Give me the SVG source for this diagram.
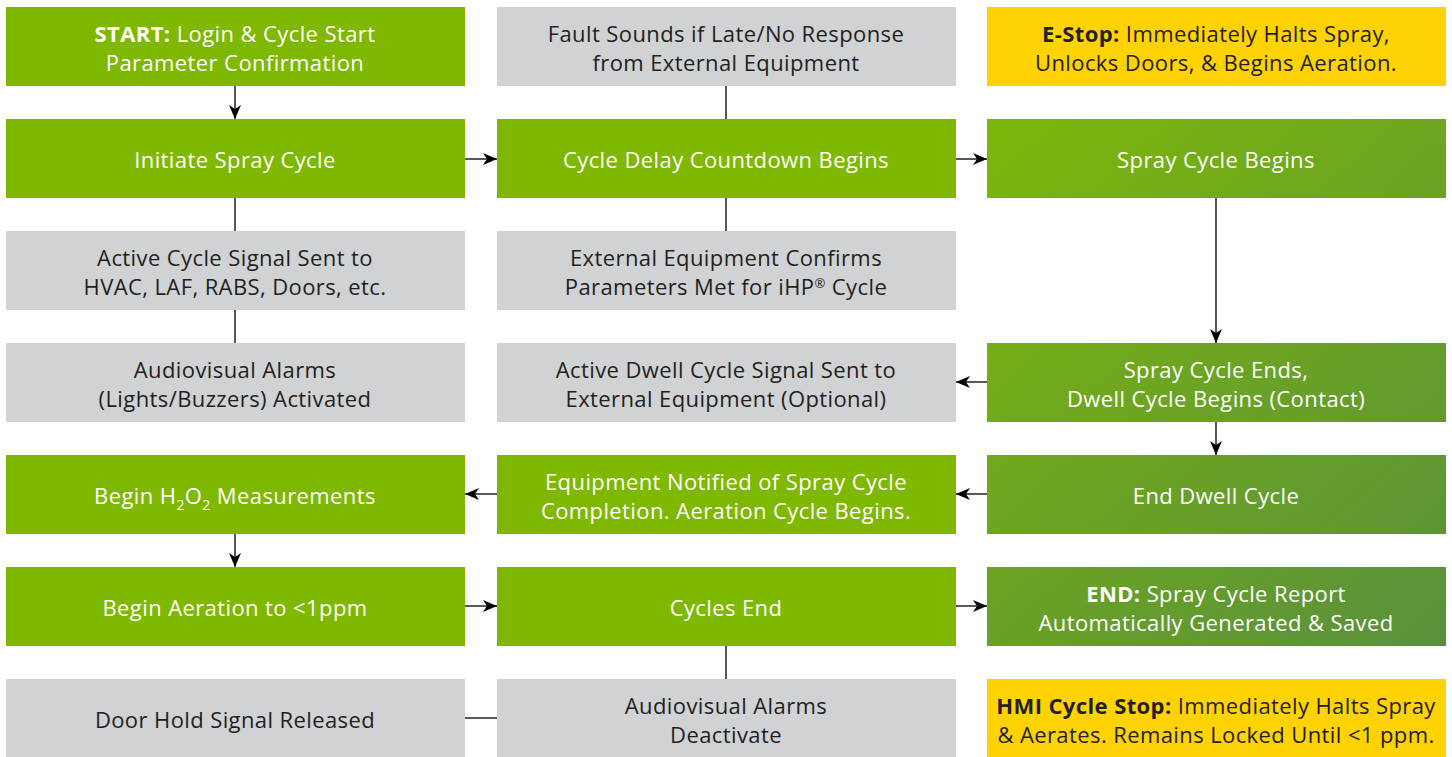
<svg xmlns="http://www.w3.org/2000/svg" width="1452" height="757" viewBox="0 0 1452 757">
<defs>
<linearGradient id="g3" gradientUnits="userSpaceOnUse" x1="987" y1="119" x2="1446" y2="646">
<stop offset="0" stop-color="#7cb70a"/>
<stop offset="1" stop-color="#5a903c"/>
</linearGradient>
<marker id="ah" viewBox="0 0 14 12" refX="14" refY="6" markerWidth="14" markerHeight="12" markerUnits="userSpaceOnUse" orient="auto">
<path d="M0,0 L14,6 L0,12 L4,6 Z" fill="#000"/>
</marker>
<style>
.g{fill:#7fb800}
.gg{fill:url(#g3)}
.s{fill:#d1d2d4}
.y{fill:#ffd200}
text{font-family:"Open Sans","Liberation Sans",sans-serif;font-size:22px;letter-spacing:0.4px;text-anchor:middle}
.w{fill:#ffffff}
.d{fill:#231f20}
.b{font-weight:bold}
.c{stroke:#3a3a3a;stroke-width:1.7;fill:none}
.a{marker-end:url(#ah)}
</style>
</defs>
<rect width="1452" height="757" fill="#fff"/>
<g id="connectors">
<line class="c a" x1="235" y1="86" x2="235" y2="119"/>
<line class="c a" x1="465" y1="159" x2="497" y2="159"/>
<line class="c a" x1="956" y1="159" x2="987" y2="159"/>
<line class="c" x1="726" y1="86" x2="726" y2="119"/>
<line class="c" x1="235" y1="198" x2="235" y2="231"/>
<line class="c" x1="235" y1="310" x2="235" y2="343"/>
<line class="c" x1="726" y1="198" x2="726" y2="231"/>
<line class="c a" x1="1216" y1="198" x2="1216" y2="343"/>
<line class="c a" x1="987" y1="382" x2="956" y2="382"/>
<line class="c a" x1="1216" y1="422" x2="1216" y2="455"/>
<line class="c a" x1="987" y1="494" x2="956" y2="494"/>
<line class="c a" x1="497" y1="494" x2="465" y2="494"/>
<line class="c a" x1="235" y1="534" x2="235" y2="567"/>
<line class="c a" x1="465" y1="606" x2="497" y2="606"/>
<line class="c a" x1="956" y1="606" x2="987" y2="606"/>
<line class="c" x1="726" y1="646" x2="726" y2="679"/>
<line class="c" x1="465" y1="718" x2="497" y2="718"/>
</g>
<g id="start"><rect class="g" x="6" y="7" width="459" height="79"/>
<text class="w" x="235" y="42"><tspan class="b">START:</tspan> Login &amp; Cycle Start</text>
<text class="w" x="235" y="71">Parameter Confirmation</text></g>
<g id="fault"><rect class="s" x="497" y="7" width="459" height="79"/>
<text class="d" x="726" y="42">Fault Sounds if Late/No Response</text>
<text class="d" x="726" y="71">from External Equipment</text></g>
<g id="estop"><rect class="y" x="987" y="7" width="459" height="79"/>
<text class="d" x="1216" y="42"><tspan class="b">E-Stop:</tspan> Immediately Halts Spray,</text>
<text class="d" x="1216" y="71">Unlocks Doors, &amp; Begins Aeration.</text></g>
<g id="initiate"><rect class="g" x="6" y="119" width="459" height="79"/>
<text class="w" x="235" y="168">Initiate Spray Cycle</text></g>
<g id="delay"><rect class="g" x="497" y="119" width="459" height="79"/>
<text class="w" x="726" y="168">Cycle Delay Countdown Begins</text></g>
<g id="spraybegins"><rect class="gg" x="987" y="119" width="459" height="79"/>
<text class="w" x="1216" y="168">Spray Cycle Begins</text></g>
<g id="activesignal"><rect class="s" x="6" y="231" width="459" height="79"/>
<text class="d" x="235" y="266">Active Cycle Signal Sent to</text>
<text class="d" x="235" y="295">HVAC, LAF, RABS, Doors, etc.</text></g>
<g id="extconfirms"><rect class="s" x="497" y="231" width="459" height="79"/>
<text class="d" x="726" y="266">External Equipment Confirms</text>
<text class="d" x="726" y="295">Parameters Met for iHP<tspan font-size="13" dy="-7">®</tspan><tspan dy="7"> Cycle</tspan></text></g>
<g id="alarms"><rect class="s" x="6" y="343" width="459" height="79"/>
<text class="d" x="235" y="378">Audiovisual Alarms</text>
<text class="d" x="235" y="407">(Lights/Buzzers) Activated</text></g>
<g id="dwellsignal"><rect class="s" x="497" y="343" width="459" height="79"/>
<text class="d" x="726" y="378">Active Dwell Cycle Signal Sent to</text>
<text class="d" x="726" y="407">External Equipment (Optional)</text></g>
<g id="sprayends"><rect class="gg" x="987" y="343" width="459" height="79"/>
<text class="w" x="1216" y="378">Spray Cycle Ends,</text>
<text class="w" x="1216" y="407">Dwell Cycle Begins (Contact)</text></g>
<g id="h2o2"><rect class="g" x="6" y="455" width="459" height="79"/>
<text class="w" x="235" y="504">Begin H<tspan font-size="14" dy="6">2</tspan><tspan dy="-6">O</tspan><tspan font-size="14" dy="6">2</tspan><tspan dy="-6"> Measurements</tspan></text></g>
<g id="notified"><rect class="g" x="497" y="455" width="459" height="79"/>
<text class="w" x="726" y="490">Equipment Notified of Spray Cycle</text>
<text class="w" x="726" y="519">Completion. Aeration Cycle Begins.</text></g>
<g id="enddwell"><rect class="gg" x="987" y="455" width="459" height="79"/>
<text class="w" x="1216" y="504">End Dwell Cycle</text></g>
<g id="aeration"><rect class="g" x="6" y="567" width="459" height="79"/>
<text class="w" x="235" y="616">Begin Aeration to &lt;1ppm</text></g>
<g id="cyclesend"><rect class="g" x="497" y="567" width="459" height="79"/>
<text class="w" x="726" y="616">Cycles End</text></g>
<g id="end"><rect class="gg" x="987" y="567" width="459" height="79"/>
<text class="w" x="1216" y="602"><tspan class="b">END:</tspan> Spray Cycle Report</text>
<text class="w" x="1216" y="631">Automatically Generated &amp; Saved</text></g>
<g id="doorhold"><rect class="s" x="6" y="679" width="459" height="79"/>
<text class="d" x="235" y="728">Door Hold Signal Released</text></g>
<g id="deactivate"><rect class="s" x="497" y="679" width="459" height="79"/>
<text class="d" x="726" y="714">Audiovisual Alarms</text>
<text class="d" x="726" y="743">Deactivate</text></g>
<g id="hmistop"><rect class="y" x="987" y="679" width="459" height="79"/>
<text class="d" x="1216" y="714"><tspan class="b">HMI Cycle Stop:</tspan> Immediately Halts Spray</text>
<text class="d" x="1216" y="743">&amp; Aerates. Remains Locked Until &lt;1 ppm.</text></g>
</svg>
